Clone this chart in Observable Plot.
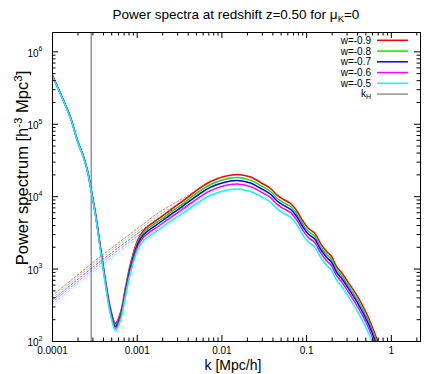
<!DOCTYPE html>
<html><head><meta charset="utf-8">
<script src="https://cdn.jsdelivr.net/npm/d3@7"></script>
<script src="https://cdn.jsdelivr.net/npm/@observablehq/plot@0.6"></script>
<style>body{margin:0;background:#fff} svg{font-family:"Liberation Sans",Arial,sans-serif}</style>
</head><body><div id="chart"></div>
<script>
// ---- data ----
const seriesNames = ["w=-0.9", "w=-0.8", "w=-0.7", "w=-0.6", "w=-0.5"];
const seriesColors = ["#ff0000", "#00ee00", "#0000ff", "#ff00ff", "#00ffff"];

const kGrid = [1e-4, 1.243e-4, 1.631e-4, 1.973e-4, 2.323e-4, 2.590e-4, 2.848e-4, 3.219e-4, 3.688e-4, 4.224e-4,
  4.839e-4, 5.543e-4, 6.350e-4, 7.275e-4, 8.334e-4, 1.008e-3, 1.187e-3, 1.884e-3, 3.521e-3, 7.335e-3,
  0.01486, 0.02178, 0.02858, 0.03750, 0.04529, 0.05483, 0.06457, 0.07603, 0.08954, 0.1052,
  0.1239, 0.1459, 0.1718, 0.1968, 0.2254, 0.2582, 0.3041, 0.3990, 0.5236, 0.6871, 0.855];

const pW09 = [472000, 266000, 124200, 59700, 35900, 23000, 12970, 5861, 1986, 697,
  286, 177, 252, 557, 1194, 2483, 3412, 5164, 8872, 16218,
  20277, 18707, 15704, 12972, 10399, 8995, 8054, 6442, 4688, 3639,
  3155, 2259, 1750, 1493, 1086, 897, 675, 419, 229, 103, 54.7];
const pW08 = [469600, 264700, 123600, 59220, 35610, 22770, 12800, 5756, 1936, 673,
  273, 168, 238, 524, 1118, 2319, 3180, 4787, 8145, 14726,
  18330, 16911, 14259, 11779, 9442, 8167, 7313, 5849, 4257, 3304,
  2865, 2051, 1589, 1356, 986, 814, 613, 377, 206, 92.6, 49.2];
const pW07 = [467300, 263300, 123000, 58860, 35400, 22560, 12660, 5668, 1893, 652,
  262, 161, 227, 496, 1053, 2180, 2979, 4467, 7523, 13493,
  16708, 15415, 13066, 10793, 8652, 7484, 6701, 5360, 3900, 3028,
  2625, 1879, 1456, 1242, 904, 746, 562, 342, 187, 84.0, 44.6];
const pW06 = [464900, 262000, 122300, 58330, 35070, 22310, 12480, 5550, 1839, 626,
  249, 152, 213, 463, 977, 2016, 2750, 4095, 6823, 12099,
  14904, 13750, 11715, 9677, 7758, 6710, 6008, 4806, 3497, 2715,
  2354, 1685, 1306, 1114, 810, 669, 504, 303, 166, 74.5, 39.5];
const pW05 = [461000, 260000, 121300, 57700, 34700, 22000, 12240, 5410, 1770, 593,
  233, 141, 196, 423, 885, 1820, 2470, 3656, 5998, 10477,
  12795, 11804, 10145, 8380, 6718, 5811, 5203, 4162, 3028, 2351,
  2038, 1459, 1131, 964, 702, 579, 436, 259, 141, 63.6, 33.7];

// dashed (linear / Newtonian) spectra
const kLinear = [1e-4, 3.688e-4, 1.008e-3, 1.884e-3, 3.521e-3, 7.335e-3];
const linW09 = [431.5, 1493, 3639, 6252, 9594, 16218];
const linW08 = [402.6, 1385, 3359, 5733, 8702, 14726];
const linW07 = [375.8, 1285, 3097, 5258, 7886, 13493];
const linW06 = [350.8, 1193, 2857, 4827, 7157, 12099];
const linW05 = [327.5, 1106, 2635, 4426, 6486, 10477];

const kHorizon = 2.86e-4;

const xMajorTicks = [1e-4, 1e-3, 1e-2, 1e-1, 1];
const xTickLabels = ["0.0001", "0.001", "0.01", "0.1", "1"];
const yMajorTicks = [1e2, 1e3, 1e4, 1e5, 1e6];
const yTickExponents = ["2", "3", "4", "5", "6"];
const minorMultipliers = [2, 3, 4, 5, 6, 7, 8, 9];
const xMinorTicks = [1e-4, 1e-3, 1e-2, 1e-1, 1].flatMap(d => minorMultipliers.map(m => m * d)).filter(v => v < 2.2);
const yMinorTicks = [1e2, 1e3, 1e4, 1e5].flatMap(d => minorMultipliers.map(m => m * d));

const titleMain = "Power spectra at redshift z=0.50 for \u03bc";
const titleSub = "K";
const titleTail = "=0";
const xLabel = "k [Mpc/h]";

// ---- tidy tables ----
const solidSeries = [pW09, pW08, pW07, pW06, pW05];
const linSeries = [linW09, linW08, linW07, linW06, linW05];
const solid = seriesNames.flatMap((w, i) => kGrid.map((k, j) => ({w, k, P: solidSeries[i][j]})));
const linear = seriesNames.flatMap((w, i) => kLinear.map((k, j) => ({w, k, P: linSeries[i][j]})));

// ---- layout ----
const W = 436, H = 374, mL = 52, mR = 16, mT = 32, mB = 33;
const pw = W - mL - mR, ph = H - mT - mB;
const font = "Liberation Sans, Arial, sans-serif";

const chart = Plot.plot({
  width: W, height: H,
  marginLeft: mL, marginRight: mR, marginTop: mT, marginBottom: mB,
  style: {fontFamily: font, background: "white", overflow: "visible"},
  x: {type: "log", domain: [1e-4, 2.21], axis: null},
  y: {type: "log", domain: [100, 1.85e6], axis: null},
  color: {domain: seriesNames, range: seriesColors},
  marks: [
    Plot.ruleX([kHorizon], {stroke: "#606060", strokeWidth: 1}),
    Plot.line(linear, {x: "k", y: "P", z: "w", stroke: "w", strokeWidth: 1, strokeDasharray: "2,2", strokeOpacity: 0.6, curve: "catmull-rom", clip: true}),
    Plot.line(solid, {x: "k", y: "P", z: "w", stroke: "w", strokeWidth: 1.5, curve: "catmull-rom", clip: true}),
    Plot.tickX(xMajorTicks, {x: d => d, insetTop: ph - 6, stroke: "black"}),
    Plot.tickX(xMajorTicks, {x: d => d, insetBottom: ph - 6, stroke: "black"}),
    Plot.tickX(xMinorTicks, {x: d => d, insetTop: ph - 3.5, stroke: "black"}),
    Plot.tickX(xMinorTicks, {x: d => d, insetBottom: ph - 3.5, stroke: "black"}),
    Plot.tickY(yMajorTicks, {y: d => d, insetRight: pw - 6, stroke: "black"}),
    Plot.tickY(yMajorTicks, {y: d => d, insetLeft: pw - 6, stroke: "black"}),
    Plot.tickY(yMinorTicks, {y: d => d, insetRight: pw - 3.5, stroke: "black"}),
    Plot.tickY(yMinorTicks, {y: d => d, insetLeft: pw - 3.5, stroke: "black"}),
    Plot.frame({stroke: "black"}),
    Plot.text(xMajorTicks, {x: d => d, frameAnchor: "bottom", text: (d, i) => xTickLabels[i], dy: 12, fontSize: 10, fill: "black"}),
    Plot.text(yMajorTicks, {y: d => d, frameAnchor: "left", text: () => "10", textAnchor: "end", dx: -14, dy: 1.5, fontSize: 10, fill: "black"}),
    Plot.text(yMajorTicks, {y: d => d, frameAnchor: "left", text: (d, i) => yTickExponents[i], textAnchor: "start", dx: -14, dy: -3, fontSize: 7, fill: "black"})
  ]
});

document.getElementById("chart").appendChild(chart);
const svg = d3.select(chart);

// title
const t = svg.append("text").attr("x", 236).attr("y", 18.5).attr("text-anchor", "middle")
  .attr("font-size", 13.5).attr("font-family", font).attr("fill", "black");
t.append("tspan").text(titleMain);
t.append("tspan").attr("font-size", 9.5).attr("dy", 3).text(titleSub);
t.append("tspan").attr("dy", -3).text(titleTail);

// x label
svg.append("text").attr("x", 233).attr("y", 370).attr("text-anchor", "middle")
  .attr("font-size", 14).attr("font-family", font).attr("fill", "black").text(xLabel);

// y label
const yl = svg.append("text").attr("transform", "translate(28,168) rotate(-90)").attr("text-anchor", "middle")
  .attr("font-size", 16.5).attr("font-family", font).attr("fill", "black");
yl.append("tspan").text("Power spectrum [h");
yl.append("tspan").attr("font-size", 11.5).attr("dy", -6).text("-3");
yl.append("tspan").attr("dy", 6).text(" Mpc");
yl.append("tspan").attr("font-size", 11.5).attr("dy", -6).text("3");
yl.append("tspan").attr("dy", 6).text("]");

// legend
const legendItems = seriesNames.map((n, i) => ({label: n, color: seriesColors[i]}));
legendItems.forEach((d, i) => {
  const y = 40.3 + i * 10.75;
  svg.append("line").attr("x1", 377).attr("x2", 408).attr("y1", y).attr("y2", y)
    .attr("stroke", d.color).attr("stroke-width", 1.5);
  svg.append("text").attr("x", 371).attr("y", y + 3.5).attr("text-anchor", "end")
    .attr("font-size", 10).attr("font-family", font).attr("fill", "black").text(d.label);
});
{
  const y = 40.3 + 5 * 10.75;
  svg.append("line").attr("x1", 377).attr("x2", 408).attr("y1", y).attr("y2", y)
    .attr("stroke", "#606060").attr("stroke-width", 1);
  const kt = svg.append("text").attr("x", 371).attr("y", y + 2.5).attr("text-anchor", "end")
    .attr("font-size", 10).attr("font-family", font).attr("fill", "black");
  kt.append("tspan").text("k");
  kt.append("tspan").attr("font-size", 7).attr("dy", 2.5).text("H");
}
</script>
</body></html>
